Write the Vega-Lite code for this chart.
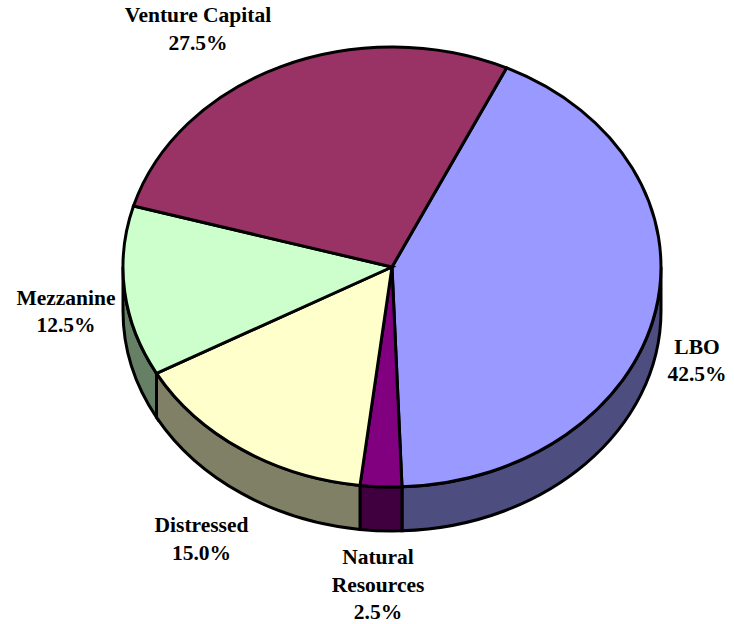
{"$schema":"https://vega.github.io/schema/vega-lite/v6.json","width":734,"height":624,"padding":0,"autosize":"none","background":"white","config":{"view":{"stroke":null},"text":{"font":"Liberation Serif","fontWeight":"bold","fontSize":21.5,"fill":"black","lineBreak":"\n","align":"center","baseline":"middle"}},
"data":{"values":[
{"slice":"LBO","value":42.5,"label":"LBO\n42.5%"},
{"slice":"Natural Resources","value":2.5,"label":"Natural\nResources\n2.5%"},
{"slice":"Distressed","value":15.0,"label":"Distressed\n15.0%"},
{"slice":"Mezzanine","value":12.5,"label":"Mezzanine\n12.5%"},
{"slice":"Venture Capital","value":27.5,"label":"Venture Capital\n27.5%"}]},
"layer":[
{"transform":[{"filter":"datum.slice !== 'Venture Capital'"}],
"mark":{"type":"point","filled":true,"opacity":1,"stroke":"black","strokeWidth":3,"size":4},
"encoding":{"x":{"datum":0,"type":"quantitative","axis":null,"scale":{"domain":[-392,342],"nice":false}},"y":{"datum":0,"type":"quantitative","axis":null,"scale":{"domain":[-267,357],"reverse":true,"nice":false}},
"fill":{"field":"slice","type":"nominal","legend":null,"scale":{"domain":["LBO","Natural Resources","Distressed","Mezzanine"],"range":["#4d4d80","#400040","#808066","#668066"]}},
"shape":{"field":"slice","type":"nominal","legend":null,"scale":{"domain":["LBO","Natural Resources","Distressed","Mezzanine"],"range":[
"M269,0 A269,220 0 0 1 10,219.8 L10,263.8 A269,220 0 0 0 269,44 Z",
"M10,219.8 A269,220 0 0 1 -32,218.4 L-32,262.4 A269,220 0 0 0 10,263.8 Z",
"M-32,218.4 A269,220 0 0 1 -235.5,106.3 L-235.5,150.3 A269,220 0 0 0 -32,262.4 Z",
"M-235.5,106.3 A269,220 0 0 1 -269,0 L-269,44 A269,220 0 0 0 -235.5,150.3 Z"]}}}},
{"mark":{"type":"point","filled":true,"opacity":1,"stroke":"black","strokeWidth":3,"size":4},
"encoding":{"x":{"datum":0,"type":"quantitative","axis":null,"scale":{"domain":[-392,342],"nice":false}},"y":{"datum":0,"type":"quantitative","axis":null,"scale":{"domain":[-267,357],"reverse":true,"nice":false}},
"fill":{"field":"slice","type":"nominal","legend":null,"scale":{"domain":["LBO","Natural Resources","Distressed","Mezzanine","Venture Capital"],"range":["#9999ff","#800080","#ffffcc","#ccffcc","#993366"]}},
"shape":{"field":"slice","type":"nominal","legend":null,"scale":{"domain":["LBO","Natural Resources","Distressed","Mezzanine","Venture Capital"],"range":[
"M0,0 L114.5,-199.1 A269,220 0 0 1 10,219.8 Z",
"M0,0 L10,219.8 A269,220 0 0 1 -32,218.4 Z",
"M0,0 L-32,218.4 A269,220 0 0 1 -235.5,106.3 Z",
"M0,0 L-235.5,106.3 A269,220 0 0 1 -258.5,-61 Z",
"M0,0 L-258.5,-61 A269,220 0 0 1 114.5,-199.1 Z"]}}}},
{"transform":[{"filter":"datum.slice === 'LBO'"}],"mark":{"type":"text","lineHeight":27},"encoding":{"x":{"datum":305,"type":"quantitative","axis":null,"scale":{"domain":[-392,342],"nice":false}},"y":{"datum":81,"type":"quantitative","axis":null,"scale":{"domain":[-267,357],"reverse":true,"nice":false}},"text":{"field":"label"}}},
{"transform":[{"filter":"datum.slice === 'Natural Resources'"}],"mark":{"type":"text","lineHeight":27.5},"encoding":{"x":{"datum":-14,"type":"quantitative","axis":null,"scale":{"domain":[-392,342],"nice":false}},"y":{"datum":291,"type":"quantitative","axis":null,"scale":{"domain":[-267,357],"reverse":true,"nice":false}},"text":{"field":"label"}}},
{"transform":[{"filter":"datum.slice === 'Distressed'"}],"mark":{"type":"text","lineHeight":28},"encoding":{"x":{"datum":-190.5,"type":"quantitative","axis":null,"scale":{"domain":[-392,342],"nice":false}},"y":{"datum":259,"type":"quantitative","axis":null,"scale":{"domain":[-267,357],"reverse":true,"nice":false}},"text":{"field":"label"}}},
{"transform":[{"filter":"datum.slice === 'Mezzanine'"}],"mark":{"type":"text","lineHeight":27},"encoding":{"x":{"datum":-326,"type":"quantitative","axis":null,"scale":{"domain":[-392,342],"nice":false}},"y":{"datum":32,"type":"quantitative","axis":null,"scale":{"domain":[-267,357],"reverse":true,"nice":false}},"text":{"field":"label"}}},
{"transform":[{"filter":"datum.slice === 'Venture Capital'"}],"mark":{"type":"text","lineHeight":28},"encoding":{"x":{"datum":-194,"type":"quantitative","axis":null,"scale":{"domain":[-392,342],"nice":false}},"y":{"datum":-251,"type":"quantitative","axis":null,"scale":{"domain":[-267,357],"reverse":true,"nice":false}},"text":{"field":"label"}}}
],
"resolve":{"scale":{"fill":"independent","shape":"independent"}}}
